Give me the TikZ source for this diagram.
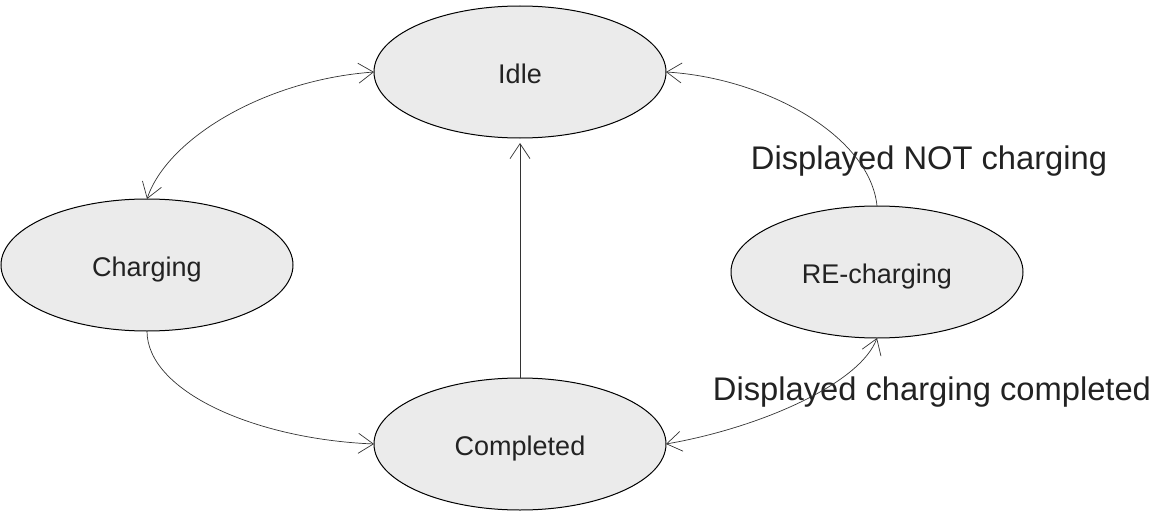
\documentclass[tikz,border=0pt]{standalone}
\usepackage{fontspec}
\setmainfont{Liberation Sans}
\usetikzlibrary{shapes.geometric,arrows.meta}
\definecolor{statefill}{HTML}{EBEBEB}
\definecolor{linecol}{HTML}{333333}
\definecolor{txtcol}{HTML}{222222}
\begin{document}
\begin{tikzpicture}[x=1pt,y=-1pt,
  >={Straight Barb[length=15pt,width=20pt]},
  state/.style={ellipse,draw=black,line width=1pt,fill=statefill,
    minimum width=292pt,minimum height=132pt,inner sep=0pt,outer sep=0pt,
    text=txtcol,font=\fontsize{27}{30}\selectfont,text height=23pt,text depth=0pt},
  biglabel/.style={anchor=base,inner sep=0pt,text=txtcol,font=\fontsize{32.7}{36}\selectfont},
  conn/.style={draw=linecol,line width=0.7pt}]
\useasboundingbox (0,0) rectangle (1160,511);
\node[state] (idle) at (520,72) {Idle};
\node[state] (charging) at (147,265) {Charging};
\node[state] (completed) at (520,444) {Completed};
\node[state] (recharging) at (877,272) {RE-charging};
\node[biglabel] (lblnot) at (929,169) {Displayed NOT charging};
\node[biglabel] (lblcomp) at (932,400) {Displayed charging completed};
\draw[conn,<->] (charging.north) .. controls +(20,-60) and +(-110,8) .. (idle.west);
\draw[conn,->] (charging.south) .. controls +(0,60) and +(-120,-5) .. (completed.west);
\draw[conn,->,shorten >=5pt] (completed.north) -- (idle.south);
\draw[conn,->] (recharging.north) .. controls +(-7,-70) and +(100,6) .. (idle.east);
\draw[conn,<->] (completed.east) .. controls +(93,-16) and +(-17,46) .. (recharging.south);
\end{tikzpicture}
\end{document}
